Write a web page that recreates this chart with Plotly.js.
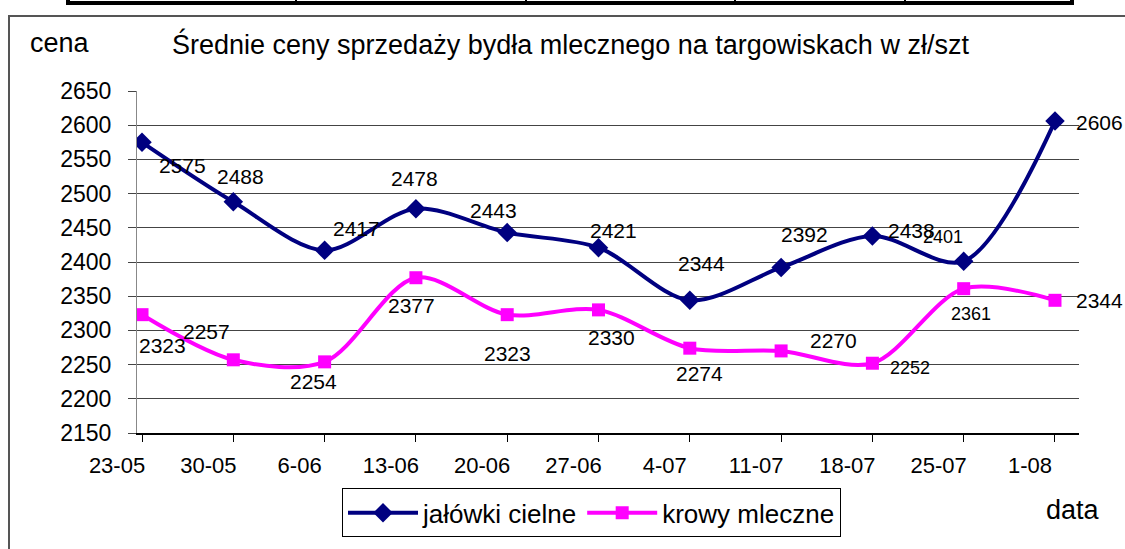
<!DOCTYPE html>
<html>
<head>
<meta charset="utf-8">
<script src="https://cdn.plot.ly/plotly-3.0.1.min.js"></script>
<style>
  html, body { margin: 0; padding: 0; background: #fff; }
  #chart { width: 1125px; height: 549px; }
</style>
</head>
<body>
<div id="chart"></div>
<script>
// ── dane ──────────────────────────────────────────────────────────────────────
const daty = ['23-05', '30-05', '6-06', '13-06', '20-06', '27-06', '4-07', '11-07', '18-07', '25-07', '1-08'];
const jalowki = [2575, 2488, 2417, 2478, 2443, 2421, 2344, 2392, 2438, 2401, 2606];
const krowy = [2323, 2257, 2254, 2377, 2323, 2330, 2274, 2270, 2252, 2361, 2344];

// przesunięcia etykiet danych [dx, dy, rozmiar] (px)
const etykJal = [[40, -23, 21], [7, 25, 21], [32, 22, 21], [-1, 30, 21], [-14, 22, 21], [15, 17, 21],
                 [12, 37, 21], [23, 33, 21], [39, 6, 21], [-21, 24, 18], [45, -1, 21]];
const etykKrow = [[20, -31, 21], [-27, 28, 21], [-11, -20, 21], [-4, -28, 21], [0, -39, 21], [13, -28, 21],
                  [10, -25, 21], [52, 10, 21], [38, -5, 18], [7, -25, 18], [45, 0, 21]];

const FONT = 'Liberation Sans, Arial, sans-serif';
const NAVY = '#000080', MAGENTA = '#FF00FF';

// obszar wykresu w px
const L = 137, T = 91, W = 942, H = 346;
const px = x => (x - L) / W;
const py = y => (T + H - y) / H;

const idx = daty.map((_, i) => i);

const etykiety = (vals, off) => vals.map((v, i) => ({
    x: i, y: v, xref: 'x', yref: 'y', text: String(v), showarrow: false,
    xanchor: 'center', yanchor: 'middle',
    xshift: off[i][0], yshift: off[i][1],
    font: { family: FONT, size: off[i][2], color: '#000' },
}));

const kresla = [
    // ramka
    { type: 'rect', xref: 'paper', yref: 'paper', x0: px(9), x1: px(1140), y0: py(570), y1: py(15),
      line: { color: '#555', width: 2 }, layer: 'below' },
    // tabela u góry
    { type: 'rect', xref: 'paper', yref: 'paper', x0: px(68), x1: px(1072), y0: py(2), y1: py(-10),
      line: { color: '#000', width: 4 } },
    ...[296, 526, 735, 905].map(v => ({ type: 'line', xref: 'paper', yref: 'paper',
      x0: px(v), x1: px(v), y0: py(3), y1: py(-10), line: { color: '#000', width: 2 } })),
];

Plotly.newPlot('chart', [
    {
        type: 'scatter', mode: 'lines+markers', name: 'jałówki cielne',
        x: idx, y: jalowki,
        line: { color: NAVY, width: 4, shape: 'spline', smoothing: 0.9 },
        marker: { symbol: 'diamond', size: 15, color: NAVY },
    },
    {
        type: 'scatter', mode: 'lines+markers', name: 'krowy mleczne',
        x: idx, y: krowy,
        line: { color: MAGENTA, width: 4, shape: 'spline', smoothing: 0.9 },
        marker: { symbol: 'square', size: 13, color: MAGENTA },
    },
], {
    width: 1125, height: 549,
    margin: { l: L, r: 1125 - L - W, t: T, b: 549 - T - H },
    paper_bgcolor: '#fff', plot_bgcolor: '#fff',
    font: { family: FONT, color: '#000' },
    title: {
        text: 'Średnie ceny sprzedaży bydła mlecznego na targowiskach w zł/szt',
        font: { family: FONT, size: 27, color: '#000' },
        xref: 'paper', x: px(172), xanchor: 'left',
        yref: 'container', y: 1 - 45 / 549, yanchor: 'middle',
    },
    xaxis: {
        range: [-0.055, 10.263],
        tickmode: 'array', tickvals: idx, ticktext: daty,
        ticks: 'outside', ticklen: 7, tickcolor: '#000', tickwidth: 1,
        ticklabelshift: -25, ticklabelstandoff: 5,
        tickfont: { family: FONT, size: 22 },
        showgrid: false, zeroline: false,
        showline: true, linecolor: '#000', linewidth: 2,
    },
    yaxis: {
        range: [2150, 2650], dtick: 50,
        ticks: 'outside', ticklen: 8, tickcolor: '#444',
        ticklabelstandoff: 12,
        tickfont: { family: FONT, size: 23 },
        showgrid: true, gridcolor: '#444', gridwidth: 1,
        zeroline: false, showline: true, linecolor: '#888', linewidth: 1,
    },
    showlegend: true,
    legend: {
        orientation: 'h', x: px(342), xanchor: 'left', y: py(493), yanchor: 'top',
        bordercolor: '#000', borderwidth: 1, bgcolor: '#fff',
        font: { family: FONT, size: 26, color: '#000' },
        itemwidth: 70, tracegroupgap: 0,
    },
    annotations: [
        ...etykiety(jalowki, etykJal),
        ...etykiety(krowy, etykKrow),
        { text: 'cena', xref: 'paper', yref: 'paper', x: px(60), y: py(42), showarrow: false,
          xanchor: 'center', yanchor: 'middle', font: { family: FONT, size: 27 } },
        { text: 'data', xref: 'paper', yref: 'paper', x: px(1073), y: py(515), showarrow: false,
          xanchor: 'center', yanchor: 'middle', font: { family: FONT, size: 27 } },
    ],
    shapes: kresla,
}, { staticPlot: true, displayModeBar: false });
</script>
</body>
</html>
